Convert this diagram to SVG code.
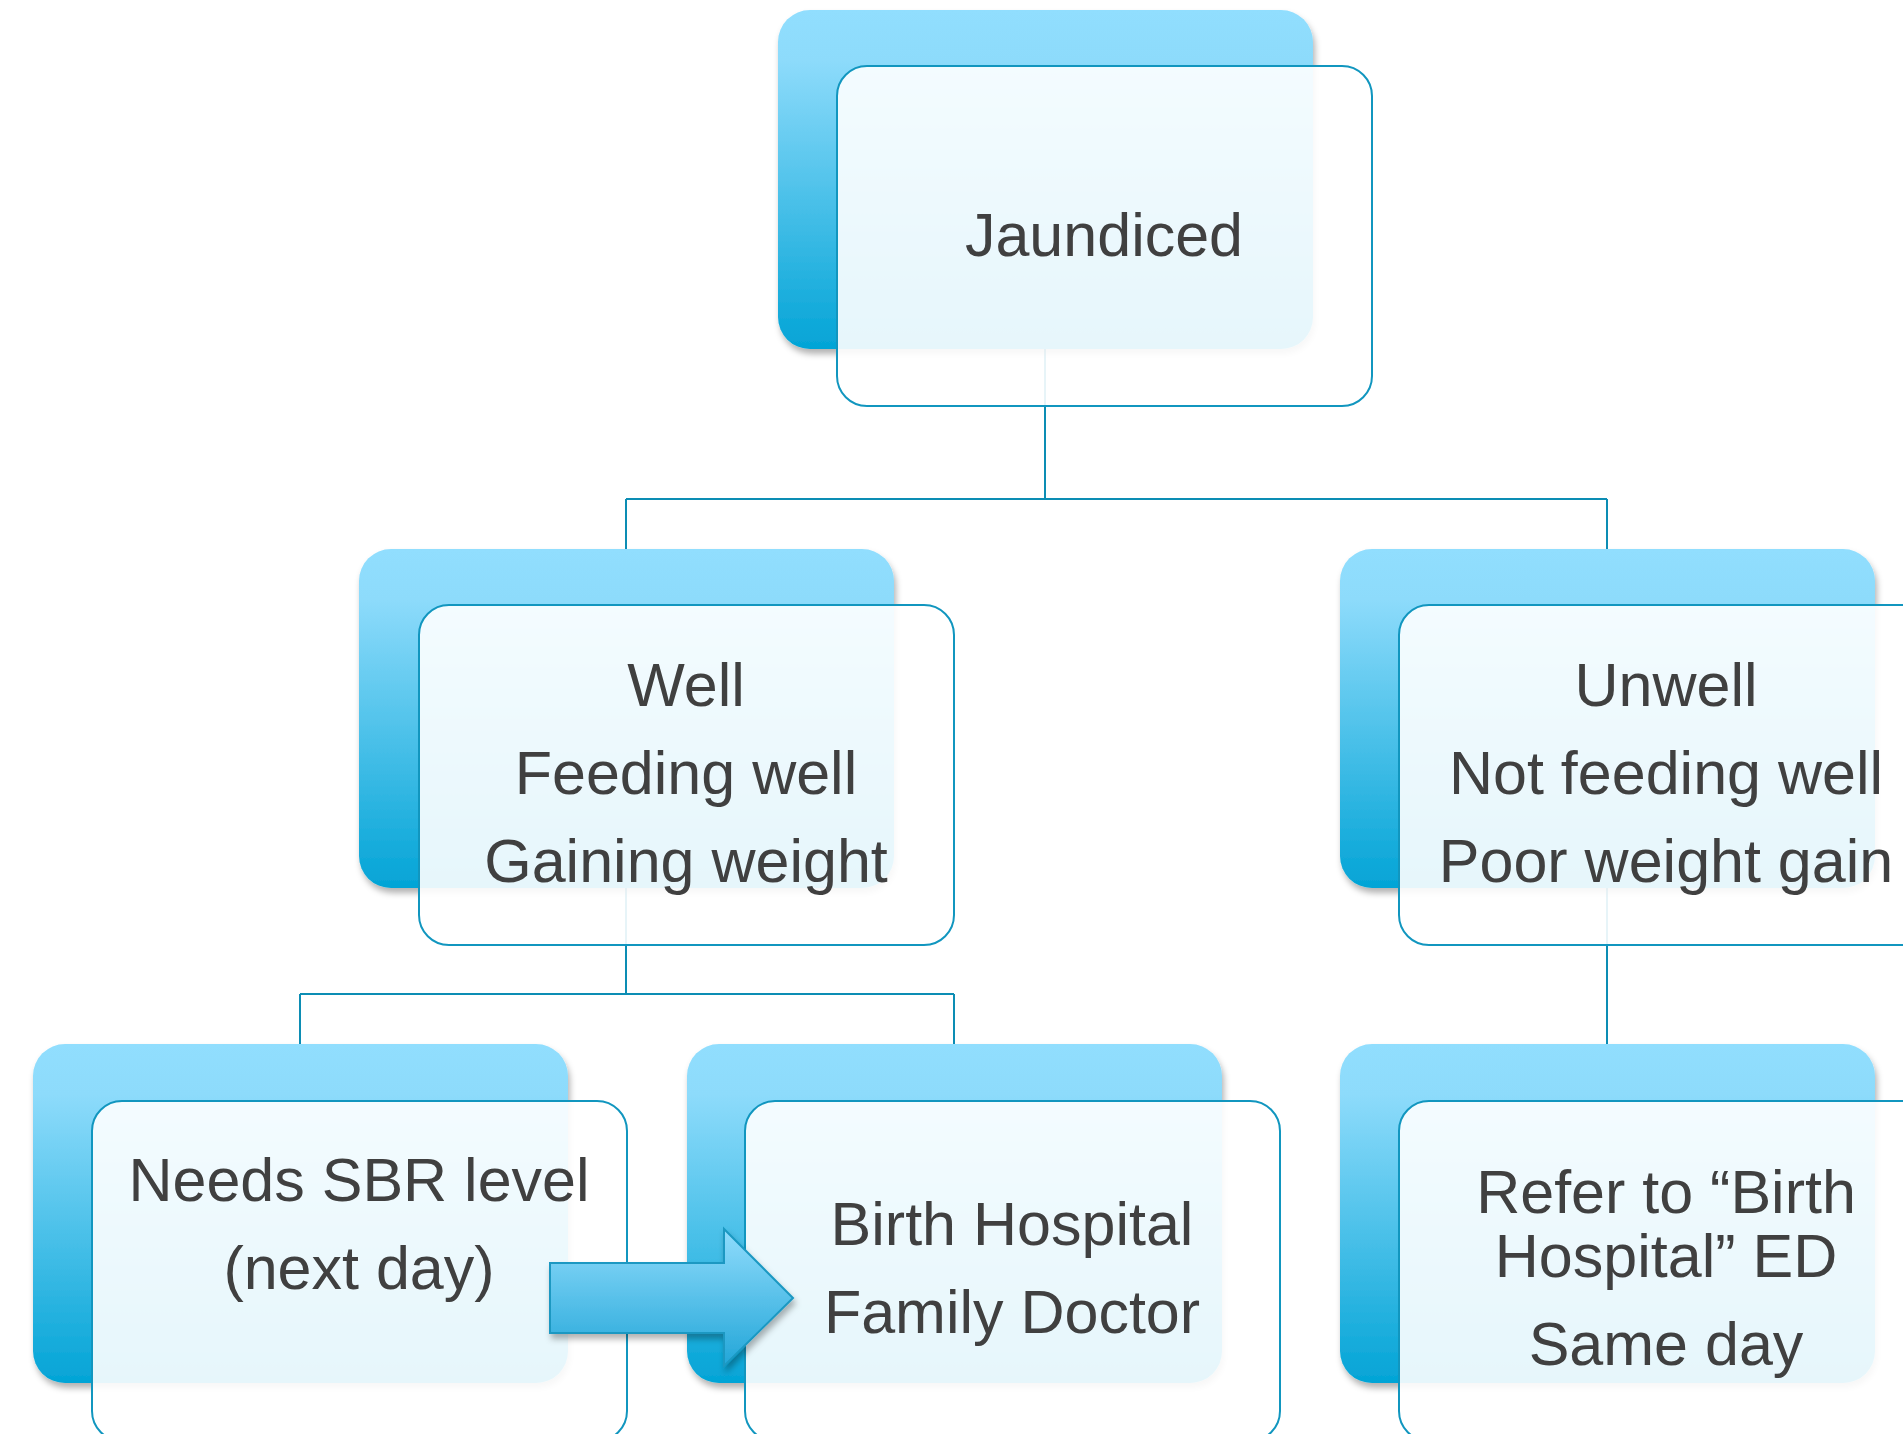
<svg xmlns="http://www.w3.org/2000/svg" width="1903" height="1434" viewBox="0 0 1903 1434">
<defs>
<linearGradient id="gBack" x1="0" y1="0" x2="0" y2="1">
<stop offset="0" stop-color="#91DEFE"/>
<stop offset="0.15" stop-color="#8DDBFB"/>
<stop offset="1" stop-color="#03A4D6"/>
</linearGradient>
<linearGradient id="gArrow" x1="0" y1="0" x2="0" y2="1">
<stop offset="0" stop-color="#90DCFC"/>
<stop offset="1" stop-color="#22A6D8"/>
</linearGradient>
<filter id="sh" x="-10%" y="-10%" width="120%" height="125%">
<feDropShadow dx="2" dy="5" stdDeviation="3" flood-color="#000" flood-opacity="0.3"/>
</filter>
</defs>
<style>
.back{fill:url(#gBack);filter:url(#sh)}
.front{fill:#fff;fill-opacity:0.9;stroke:#1196BF;stroke-width:2}
.t{font-family:"Liberation Sans",Arial,sans-serif;font-size:61px;fill:#404040;text-anchor:middle}
.conn{fill:none;stroke:#0C8DB4;stroke-width:2}
</style>
<rect width="1903" height="1434" fill="#fff"/>
<g id="connectors">
<path class="conn" d="M1045 349V499M626 499H1607M626 499V549M1607 499V549"/>
<path class="conn" d="M626 888V994M300 994H954M300 994V1044M954 994V1044"/>
<path class="conn" d="M1607 888V1044"/>
</g>
<g id="node-jaundiced">
<rect class="back" x="778" y="10" width="535" height="339" rx="32"/>
<rect class="front" x="837" y="66" width="535" height="340" rx="30"/>
<text class="t" x="1104" y="256">Jaundiced</text>
</g>
<g id="node-well">
<rect class="back" x="359" y="549" width="535" height="339" rx="32"/>
<rect class="front" x="419" y="605" width="535" height="340" rx="30"/>
<text class="t" x="686" y="706">Well</text>
<text class="t" x="686" y="794">Feeding well</text>
<text class="t" x="686" y="882">Gaining weight</text>
</g>
<g id="node-unwell">
<rect class="back" x="1340" y="549" width="535" height="339" rx="32"/>
<rect class="front" x="1399" y="605" width="535" height="340" rx="30"/>
<text class="t" x="1666" y="706">Unwell</text>
<text class="t" x="1666" y="794">Not feeding well</text>
<text class="t" x="1666" y="882">Poor weight gain</text>
</g>
<g id="node-needs">
<rect class="back" x="33" y="1044" width="535" height="339" rx="32"/>
<rect class="front" x="92" y="1101" width="535" height="340" rx="30"/>
<text class="t" x="359" y="1201">Needs SBR level</text>
<text class="t" x="359" y="1289">(next day)</text>
</g>
<g id="node-birth">
<rect class="back" x="687" y="1044" width="535" height="339" rx="32"/>
<rect class="front" x="745" y="1101" width="535" height="340" rx="30"/>
<text class="t" x="1012" y="1245">Birth Hospital</text>
<text class="t" x="1012" y="1333">Family Doctor</text>
</g>
<g id="node-refer">
<rect class="back" x="1340" y="1044" width="535" height="339" rx="32"/>
<rect class="front" x="1399" y="1101" width="535" height="340" rx="30"/>
<text class="t" x="1666" y="1213">Refer to “Birth</text>
<text class="t" x="1666" y="1277">Hospital” ED</text>
<text class="t" x="1666" y="1365">Same day</text>
</g>
<g id="arrow">
<path d="M550 1263H724V1229L793 1298L724 1366V1333H550Z" fill="url(#gArrow)" stroke="#1A98C2" stroke-width="2" filter="url(#sh)"/>
</g>
</svg>
